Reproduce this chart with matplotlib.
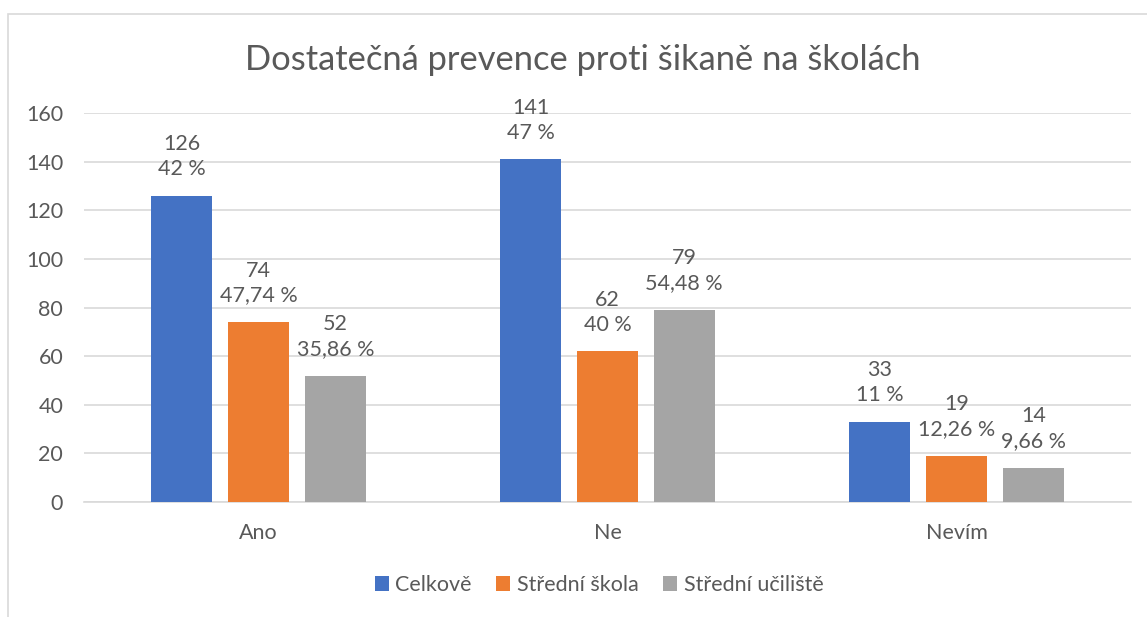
import matplotlib
matplotlib.use("Agg")
from matplotlib import pyplot as plt
from matplotlib.patches import Rectangle
import numpy as np

categories = ["Ano", "Ne", "Nevím"]
series_names = ["Celkově", "Střední škola", "Střední učiliště"]
celkove = [126, 141, 33]
stredni_skola = [74, 62, 19]
stredni_uciliste = [52, 79, 14]
pct_celkove = ["42 %", "47 %", "11 %"]
pct_skola = ["47,74 %", "40 %", "12,26 %"]
pct_uciliste = ["35,86 %", "54,48 %", "9,66 %"]

colors = ["#4472C4", "#ED7D31", "#A5A5A5"]
text_col = "#595959"
plt.rcParams['font.family'] = ['Lato', 'DejaVu Sans']
fs = 15.5

fig = plt.figure(figsize=(11.47, 6.17), dpi=100)
ax = fig.add_axes([84/1147, 115/617, (1131-84)/1147, (502-113)/617])

x = np.arange(len(categories))
width = 0.175
step = 0.22
data = [celkove, stredni_skola, stredni_uciliste]
pcts = [pct_celkove, pct_skola, pct_uciliste]
for i in range(3):
    xs = x + (i - 1) * step
    ax.bar(xs, data[i], width, color=colors[i], label=series_names[i], zorder=3)
    for xv, v, p in zip(xs, data[i], pcts[i]):
        ax.annotate(f"{v}\n{p}", (xv, v), xytext=(0, 12), textcoords="offset points",
                    ha="center", va="bottom", fontsize=fs, color=text_col,
                    linespacing=1.3)

ax.set_xlim(-0.5, 2.5)
ax.set_ylim(0, 160)
ax.set_yticks(range(0, 161, 20))
ax.set_xticks(x)
ax.set_xticklabels(categories)
ax.tick_params(axis="both", length=0, labelsize=fs, colors=text_col)
ax.tick_params(axis="y", pad=15)
ax.tick_params(axis="x", pad=15)
ax.grid(axis="y", color="#D9D9D9", lw=1.2, zorder=0)
for s in ["top", "right", "left"]:
    ax.spines[s].set_visible(False)
ax.spines["bottom"].set_color("#D9D9D9")
ax.spines["bottom"].set_linewidth(1.2)

fig.text(583/1147, 1 - 60/617, "Dostatečná prevence proti šikaně na školách",
         ha="center", va="center", fontsize=24.8, color=text_col)

fig.legend(loc="center", bbox_to_anchor=(599/1147, 1 - 585/617), ncol=3,
           frameon=False, fontsize=fs, labelcolor=text_col,
           handlelength=0.65, handleheight=0.65, handletextpad=0.3, columnspacing=1.15)

fig.patches.append(Rectangle((8/1147, -0.1), 1.2, (617-14)/617 + 0.1,
                             transform=fig.transFigure, fill=False,
                             edgecolor="#D9D9D9", lw=1.2))

fig.savefig("out.png", dpi=100)
